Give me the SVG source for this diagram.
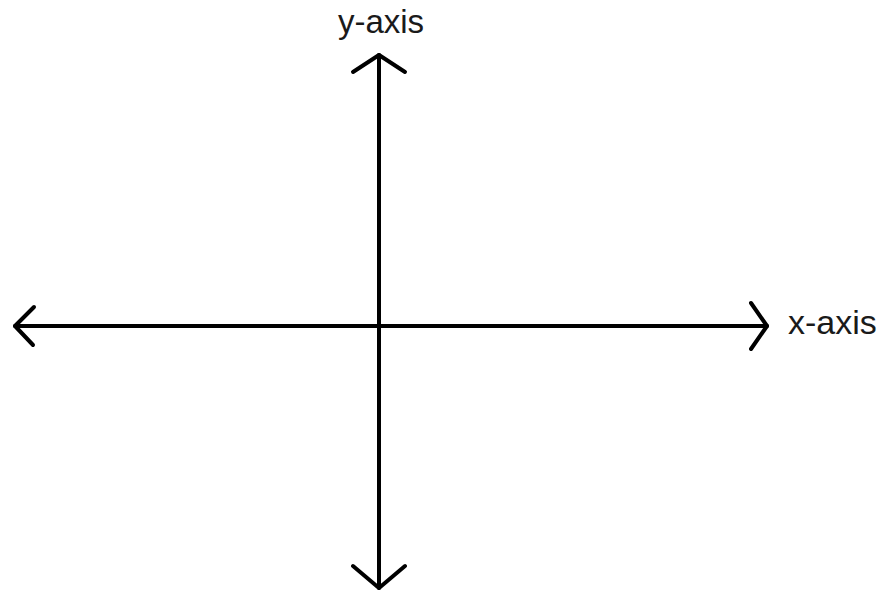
<svg xmlns="http://www.w3.org/2000/svg" width="883" height="590" viewBox="0 0 883 590">
<style>
.ax{stroke:#000;stroke-width:4;fill:none;stroke-linecap:round;stroke-linejoin:round}
.lbl{font-family:"Liberation Sans",Arial,sans-serif;font-size:33px;fill:#1a1a1a}
</style>
<rect width="883" height="590" fill="#fff"/>
<g id="connectors">
<path class="ax" d="M379,55 L379,588"/>
<path class="ax" d="M15,326 L767,326"/>
<path class="ax" d="M353,72 L379,55 L405,72"/>
<path class="ax" d="M353,566 L379,588 L405,566"/>
<path class="ax" d="M34,307 L15,326 L33,345"/>
<path class="ax" d="M751,303 L767,326 L751,349"/>
</g>
<g id="y-label"><text class="lbl" x="381" y="33" text-anchor="middle">y-axis</text></g>
<g id="x-label"><text class="lbl" x="788" y="334" style="font-size:34px">x-axis</text></g>
</svg>
